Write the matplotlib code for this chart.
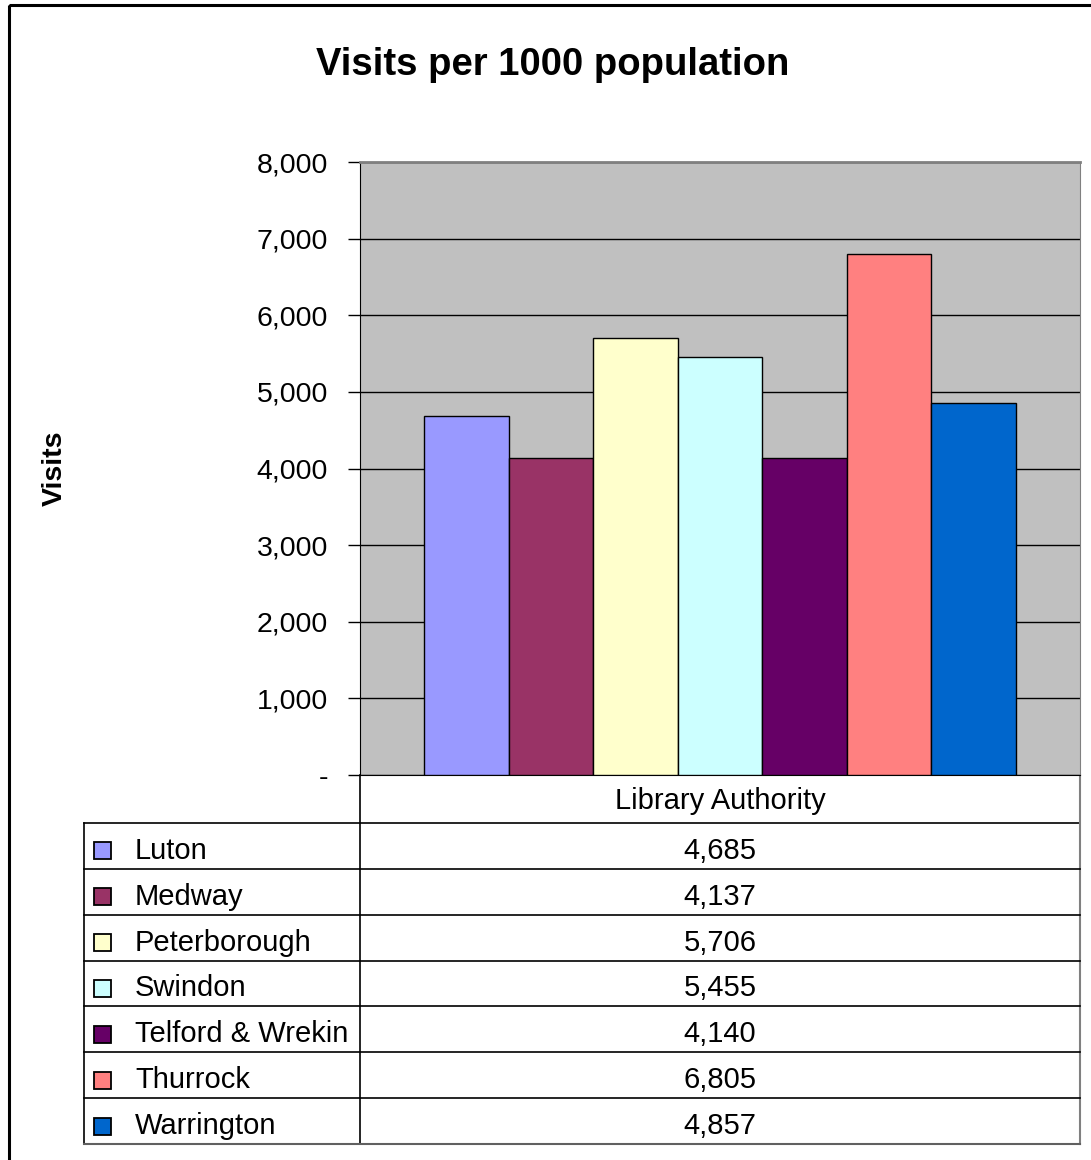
import matplotlib
matplotlib.use("Agg")
import matplotlib.pyplot as plt
from matplotlib.patches import Rectangle
from matplotlib.ticker import FuncFormatter

plt.rcParams['font.family'] = ['Liberation Sans', 'DejaVu Sans']

authorities = ["Luton", "Medway", "Peterborough", "Swindon",
               "Telford & Wrekin", "Thurrock", "Warrington"]
visits = [4685, 4137, 5706, 5455, 4140, 6805, 4857]
colors = ["#9999FF", "#993366", "#FFFFCC", "#CCFFFF",
          "#660066", "#FF8080", "#0066CC"]

W, H = 1091, 1160
fig = plt.figure(figsize=(W / 100, H / 100), dpi=100)

# overlay axes in pixel coords for frame / table
ov = fig.add_axes([0, 0, 1, 1])
ov.set_xlim(0, W)
ov.set_ylim(H, 0)
ov.axis("off")
ov.add_patch(Rectangle((9, 5), W + 20, H + 20, fill=False, ec="black", lw=2.2))

# plot area
px_l, px_r, px_t, px_b = 360, 1080, 162, 775
ax = fig.add_axes([px_l / W, (H - px_b) / H, (px_r - px_l) / W, (px_b - px_t) / H])
ax.set_facecolor("#C0C0C0")
n = len(visits)
gap = 64 / 720
bw = (1 - 2 * gap) / n
xs = [gap + bw * (i + 0.5) for i in range(n)]
ax.bar(xs, visits, width=bw, color=colors, edgecolor="black", linewidth=1.0, zorder=3)
ax.set_xlim(0, 1)
ax.set_ylim(0, 8000)
ax.set_yticks(range(0, 8001, 1000))
ax.yaxis.set_major_formatter(FuncFormatter(lambda v, p: "-" if v == 0 else f"{int(v):,}"))
ax.tick_params(axis="y", length=9, width=1, labelsize=20.5, pad=14, color="black")
ax.set_xticks([])
ax.grid(axis="y", color="black", lw=1, zorder=1)
ax.set_axisbelow(True)
for s in ["top", "right"]:
    ax.spines[s].set_color("#808080")
ax.spines["top"].set_linewidth(2)
ax.spines["left"].set_color("black")
ax.spines["bottom"].set_color("black")

fig.text(553 / W, 1 - 65 / H, "Visits per 1000 population", ha="center", va="center",
         fontsize=27.5, fontweight="bold")
fig.text(55 / W, 1 - 468 / H, "Visits", ha="center", va="center", rotation=90,
         fontsize=20.5, fontweight="bold")

# data table
tab_l, tab_t, head_b, tab_b = 84, 775, 823, 1144
row_h = (tab_b - head_b) / n
ov.text((px_l + px_r) / 2, (tab_t + head_b) / 2 + 2, "Library Authority", ha="center",
        va="center", fontsize=21)
ov.plot([tab_l, px_r], [head_b, head_b], color="black", lw=1.2)
ov.plot([px_l, px_l], [tab_t, tab_b], color="black", lw=1.2)
ov.plot([tab_l, tab_l], [head_b, tab_b], color="black", lw=1.2)
ov.plot([px_r, px_r], [tab_t, tab_b], color="#808080", lw=1.5)
ov.plot([tab_l, px_r], [tab_b, tab_b], color="#606060", lw=1.5)
for i, (name, v, c) in enumerate(zip(authorities, visits, colors)):
    y0 = head_b + i * row_h
    yc = y0 + row_h / 2 + 5
    if i > 0:
        ov.plot([tab_l, px_r], [y0, y0], color="black", lw=1.2)
    ov.add_patch(Rectangle((93.5, yc - 8.5), 17, 17, fc=c, ec="black", lw=1.3))
    ov.text(135, yc, name, ha="left", va="center", fontsize=21)
    ov.text((px_l + px_r) / 2, yc, f"{v:,}", ha="center", va="center", fontsize=21)

fig.savefig("out.png", dpi=100)
